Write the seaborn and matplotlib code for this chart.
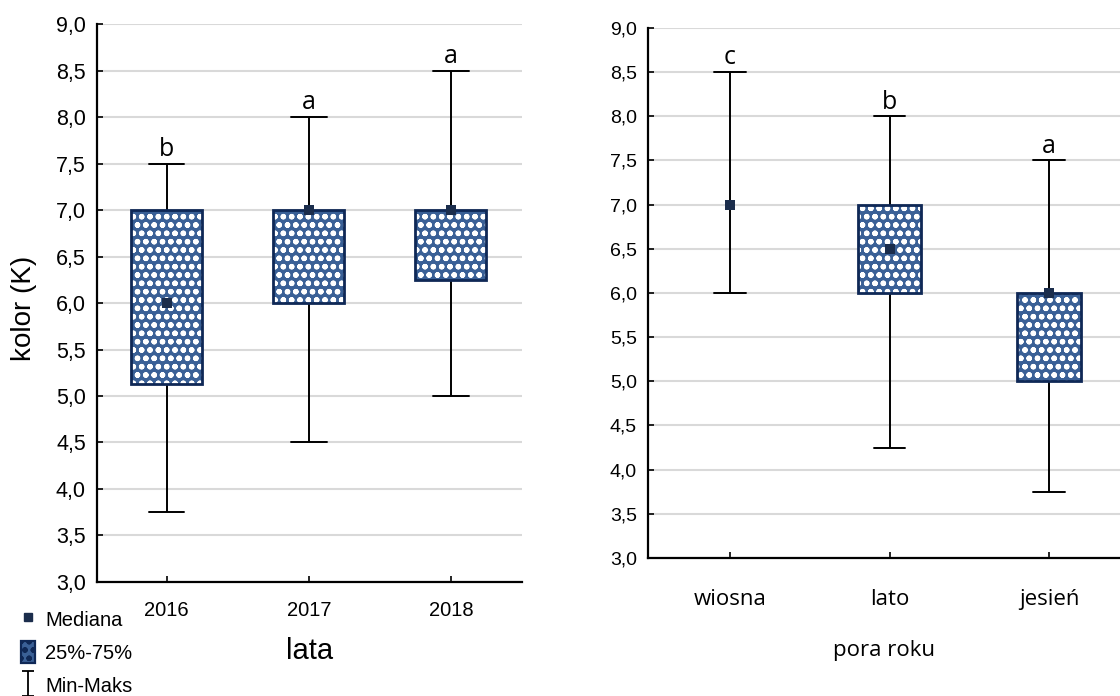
import numpy as np
import pandas as pd
import matplotlib
matplotlib.use("Agg")
import matplotlib.pyplot as plt
from matplotlib.patches import PathPatch, Patch
from matplotlib.lines import Line2D
from matplotlib.path import Path
from matplotlib.ticker import FuncFormatter, MultipleLocator
import seaborn as sns

# ---- data: five-number summaries (min, Q1, median, Q3, max) ----
years = ["2016", "2017", "2018"]
year_min = [3.75, 4.5, 5.0]
year_q1 = [5.125, 6.0, 6.25]
year_med = [6.0, 7.0, 7.0]
year_q3 = [7.0, 7.0, 7.0]
year_max = [7.5, 8.0, 8.5]
year_letters = ["b", "a", "a"]

seasons = ["wiosna", "lato", "jesień"]
season_min = [6.0, 4.25, 3.75]
season_q1 = [7.0, 6.0, 5.0]
season_med = [7.0, 6.5, 6.0]
season_q3 = [7.0, 7.0, 6.0]
season_max = [8.5, 8.0, 7.5]
season_letters = ["c", "b", "a"]

BOX_BLUE = "#3a6096"
BOX_EDGE = "#0f2856"
MED_COLOR = "#1b2d4c"
GRID = "#d9d9d9"
# rings plus filled dots on the same lattice merge into solid white dots
HATCH = "oo.."

sns.set_theme(style="white")
plt.rcParams["font.family"] = ["Liberation Sans", "DejaVu Sans"]
plt.rcParams["hatch.linewidth"] = 1.6
for key in ("text.color", "axes.labelcolor", "xtick.color", "ytick.color"):
    plt.rcParams[key] = "black"

HUMANIST = ["Open Sans", "DejaVu Sans"]


def five_number_frame(groups, mins, q1s, meds, q3s, maxs, col):
    # five points per group reproduce exactly the quartiles with linear percentiles
    rows = []
    for g, a, b, c, d, e in zip(groups, mins, q1s, meds, q3s, maxs):
        for v in (a, b, c, d, e):
            rows.append({col: g, "kolor": v})
    return pd.DataFrame(rows)


def style_boxes(ax):
    for patch in list(ax.patches):
        ext = patch.get_path().get_extents()
        if ext.height < 1e-9:
            # no spread between quartiles: keep only the whiskers
            patch.set_visible(False)
            continue
        patch.set_facecolor(BOX_BLUE)
        patch.set_edgecolor("white")
        patch.set_hatch(HATCH)
        patch.set_linewidth(0)
        outline = PathPatch(patch.get_path(), transform=patch.get_transform(),
                            fill=False, edgecolor=BOX_EDGE, linewidth=2.0,
                            zorder=patch.get_zorder() + 0.1)
        ax.add_patch(outline)


def draw_panel(ax, groups, mins, q1s, meds, q3s, maxs, letters, col, width,
               tick_size, letter_size, cat_font, cat_size, cat_pad):
    df = five_number_frame(groups, mins, q1s, meds, q3s, maxs, col)
    sns.boxplot(data=df, x=col, y="kolor", order=groups, whis=(0, 100),
                width=width, color=BOX_BLUE, saturation=1, linecolor="black",
                linewidth=1.4, medianprops=dict(visible=False),
                showfliers=False, ax=ax)
    style_boxes(ax)
    for line in ax.lines:
        line.set_zorder(1.5)
    sns.stripplot(x=groups, y=meds, order=groups, jitter=False, marker="s",
                  size=7.5, color=MED_COLOR, linewidth=0, ax=ax, zorder=6)
    for i, (top, lab) in enumerate(zip(maxs, letters)):
        ax.text(i, top + 0.02, lab, ha="center", va="bottom",
                fontsize=letter_size, family=HUMANIST, color="black")

    ax.set_ylim(3.0, 9.0)
    ax.yaxis.set_major_locator(MultipleLocator(0.5))
    ax.yaxis.set_major_formatter(FuncFormatter(lambda v, p: f"{v:.1f}".replace(".", ",")))
    ax.grid(axis="y", color=GRID, linewidth=1.5, zorder=0)
    ax.set_axisbelow(True)
    for side in ("top", "right"):
        ax.spines[side].set_visible(False)
    for side in ("left", "bottom"):
        ax.spines[side].set_color("black")
        ax.spines[side].set_linewidth(1.6)
    ax.tick_params(axis="both", direction="in", length=4, width=1.2,
                   color="black", left=True, bottom=True)
    ax.tick_params(axis="y", labelsize=tick_size, pad=8)
    ax.set_xticks(range(len(groups)))
    ax.set_xticklabels(groups, fontsize=cat_size, family=cat_font)
    ax.tick_params(axis="x", pad=cat_pad)


fig = plt.figure(figsize=(11.2, 6.96), dpi=100)
ax1 = fig.add_axes([0.0866, 0.1638, 0.3795, 0.8017])
ax2 = fig.add_axes([0.5786, 0.1983, 0.4214, 0.7615])

draw_panel(ax1, years, year_min, year_q1, year_med, year_q3, year_max,
           year_letters, "lata", 0.5, 15.5, 18,
           ["Liberation Sans", "DejaVu Sans"], 14.5, 14)
ax1.set_xlim(-0.49, 2.5)
ax1.set_ylabel("kolor (K)", fontsize=20)
ax1.yaxis.set_label_coords(-0.142, 0.49)
ax1.set_xlabel("lata", fontsize=21, labelpad=12)

draw_panel(ax2, seasons, season_min, season_q1, season_med, season_q3, season_max,
           season_letters, "pora roku", 0.4, 14, 18, HUMANIST, 16, 22)
ax2.set_xlim(-0.514, 2.445)
ax2.set_ylabel("")
ax2.set_xlabel("pora roku", fontsize=16, labelpad=22, family=HUMANIST)

# legend in the lower-left corner of the figure
ibeam = Path([(-0.5, -1), (0.5, -1), (0, -1), (0, 1), (-0.5, 1), (0.5, 1)],
             [Path.MOVETO, Path.LINETO, Path.MOVETO, Path.LINETO,
              Path.MOVETO, Path.LINETO])
handles = [
    Line2D([], [], linestyle="none", marker="s", markersize=6,
           color=MED_COLOR),
    Patch(facecolor=BOX_BLUE, edgecolor=BOX_EDGE, hatch=HATCH, linewidth=1.6),
    Line2D([], [], linestyle="none", marker=ibeam, markersize=18,
           markeredgewidth=1.3, color="black", fillstyle="none"),
]
leg = fig.legend(handles, ["Mediana", "25%-75%", "Min-Maks"],
                 loc="lower left", bbox_to_anchor=(0.008, -0.018),
                 frameon=False, fontsize=14.5, handlelength=0.7,
                 handleheight=1.3, handletextpad=0.5, labelspacing=0.55,
                 borderaxespad=0.2)

fig.savefig("out.png", dpi=100)
